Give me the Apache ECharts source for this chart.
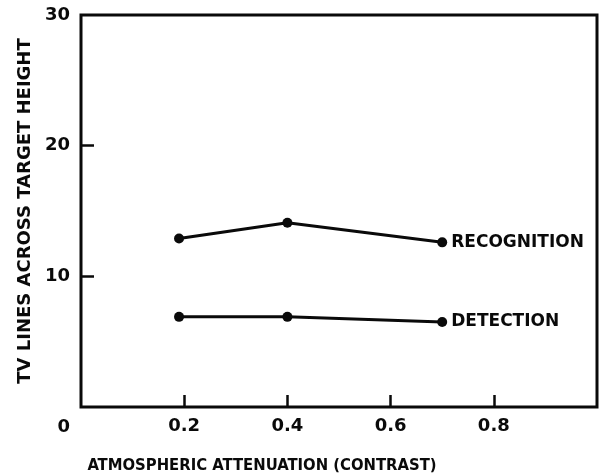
<!DOCTYPE html>
<html>
<head>
<meta charset="utf-8">
<script src="https://cdn.jsdelivr.net/npm/echarts@6/dist/echarts.min.js"></script>
<style>
  html, body { margin: 0; padding: 0; background: #fff; }
  #chart { width: 607px; height: 476px; }
</style>
</head>
<body>
<div id="chart"></div>
<script>
// values
const contrast = [0.19, 0.4, 0.7];
const recognition = [12.9, 14.1, 12.6];
const detection = [6.9, 6.9, 6.5];
const seriesNames = ["RECOGNITION", "DETECTION"];
const xTicks = [0.2, 0.4, 0.6, 0.8];
const yTicks = [10, 20, 30];

const font = "DejaVu Sans";
const ink = "#0a0a0a";

function pairs(xs, ys) {
  return xs.map((x, i) => [x, ys[i]]);
}

function makeSeries(name, values) {
  return {
    name: name,
    type: "line",
    data: pairs(contrast, values),
    symbol: "circle",
    symbolSize: 10,
    lineStyle: { color: ink, width: 3 },
    itemStyle: { color: ink },
    endLabel: {
      show: true,
      formatter: name,
      color: ink,
      fontFamily: font,
      fontWeight: "bold",
      fontSize: 17,
      distance: 9
    },
    silent: true,
    animation: false
  };
}

const chart = echarts.init(document.getElementById("chart"), null, { renderer: "canvas" });

chart.setOption({
  backgroundColor: "#fff",
  animation: false,
  grid: {
    left: 81, top: 15, right: 10, bottom: 69,
    show: true,
    borderColor: ink,
    borderWidth: 3,
    containLabel: false,
    outerBoundsMode: "none"
  },
  xAxis: {
    type: "value",
    min: 0, max: 1, interval: 0.2,
    name: "ATMOSPHERIC ATTENUATION (CONTRAST)",
    nameLocation: "middle",
    nameGap: 50,
    nameTextStyle: {
      color: ink, fontFamily: "DejaVu Sans Condensed", fontWeight: "bold", fontSize: 16.5,
      padding: [0, 154, 0, 0]
    },
    axisLine: { show: false },
    splitLine: { show: false },
    axisTick: {
      inside: true, length: 12,
      lineStyle: { color: ink, width: 2.5 },
      customValues: xTicks
    },
    axisLabel: {
      color: ink, fontFamily: font, fontWeight: "bold", fontSize: 18, margin: 10,
      customValues: xTicks,
      formatter: v => v.toFixed(1)
    }
  },
  yAxis: {
    type: "value",
    min: 0, max: 30, interval: 10,
    name: "TV LINES ACROSS TARGET HEIGHT",
    nameLocation: "middle",
    nameGap: 46,
    nameTextStyle: { color: ink, fontFamily: font, fontWeight: "bold", fontSize: 18 },
    axisLine: { show: false },
    splitLine: { show: false },
    axisTick: {
      inside: true, length: 13,
      lineStyle: { color: ink, width: 2.5 },
      customValues: [10, 20]
    },
    axisLabel: {
      color: ink, fontFamily: font, fontWeight: "bold", fontSize: 18, margin: 11,
      customValues: [0].concat(yTicks),
      formatter: v => v === 0 ? "{z|0}" : String(v),
      rich: {
        z: { color: ink, fontFamily: font, fontWeight: "bold", fontSize: 18, padding: [40, 0, 0, 0] }
      }
    }
  },
  series: [
    makeSeries(seriesNames[0], recognition),
    makeSeries(seriesNames[1], detection)
  ]
});
</script>
</body>
</html>
